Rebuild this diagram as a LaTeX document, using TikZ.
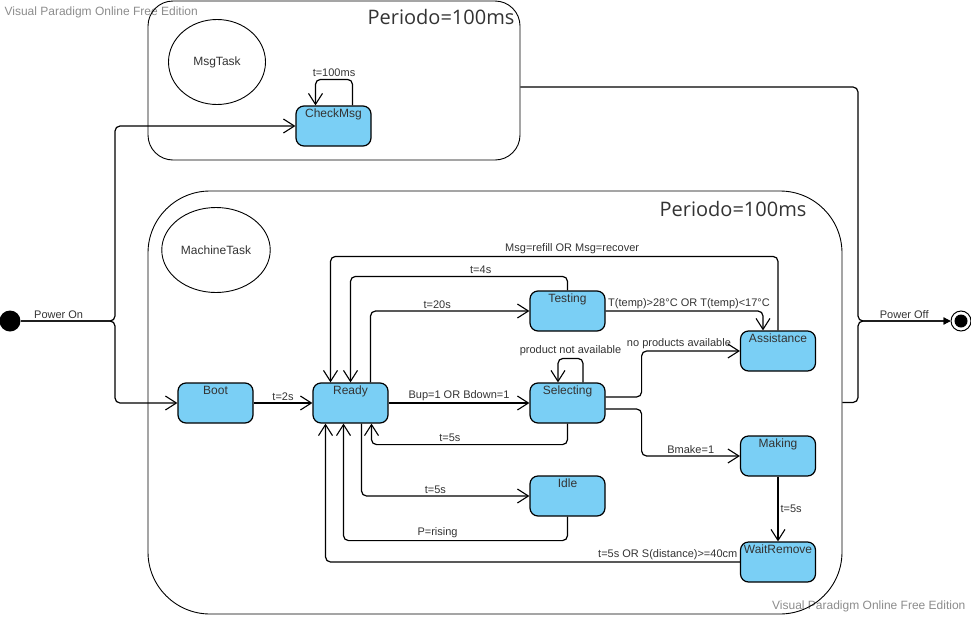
\documentclass[tikz,border=0pt]{standalone}
\usepackage{fontspec}
\setmainfont{Liberation Sans}
\newfontfamily\titlefont{Open Sans}
\usepackage{xcolor}
\usetikzlibrary{arrows.meta,shapes.geometric}
\definecolor{stateblue}{RGB}{122,207,245}
\definecolor{txtgray}{RGB}{51,51,51}
\definecolor{markgray}{RGB}{140,140,140}

\begin{document}
\begin{tikzpicture}[x=1pt,y=-1pt,line width=1.2pt,
  state/.style={rectangle,rounded corners=8pt,draw,fill=stateblue,minimum width=75pt,minimum height=40pt,inner sep=0pt,
    label={[anchor=north,inner sep=3pt,text=txtgray,font=\fontsize{12}{14}\selectfont]north:#1}},
  task/.style={ellipse,draw,line width=0.9pt,minimum width=97pt,minimum height=85pt,text=txtgray,font=\fontsize{12}{14}\selectfont},
  region/.style={rectangle,draw,line width=0.9pt,inner sep=0pt},
  period/.style={anchor=east,inner sep=0pt,text=txtgray,font=\titlefont\fontsize{20}{24}\selectfont},
  lbl/.style={inner sep=2pt,text=txtgray,font=\fontsize{11}{13}\selectfont},
  wmark/.style={inner sep=0pt,text=markgray,font=\fontsize{12}{14}\selectfont},
  link/.style={->,rounded corners=5pt},
  >={Straight Barb[length=11pt,width=14pt,line width=1.1pt]}]
\useasboundingbox (0,0) rectangle (971,616);

\node (Mark1)[wmark,anchor=west] at (4,12) {Visual Paradigm Online Free Edition};
\node (Mark2)[wmark,anchor=east] at (966,606) {Visual Paradigm Online Free Edition};

% the two tasks
\node (MsgBox)[region,rounded corners=25pt,minimum width=372pt,minimum height=159pt] at (334,80.5) {};
\node (MachBox)[region,rounded corners=62pt,minimum width=694pt,minimum height=423pt] at (495,402.5) {};
\node (Per1)[period] at (515,17) {Periodo=100ms};
\node (Per2)[period] at (807,209) {Periodo=100ms};
\node (MsgTask)[task] at (217,62) {MsgTask};
\node (MachTask)[task] at (216,250) {MachineTask};

% states
\node (CheckMsg)[state=CheckMsg] at (333.5,126) {};
\node (Boot)[state=Boot] at (215.5,403) {};
\node (Ready)[state=Ready] at (350.5,403) {};
\node (Test)[state=Testing] at (567.5,311) {};
\node (Sel)[state=Selecting] at (567.5,403) {};
\node (Assist)[state=Assistance] at (778,351) {};
\node (Make)[state=Making] at (778,456) {};
\node (Idle)[state=Idle] at (567.5,496) {};
\node (Wait)[state=WaitRemove] at (778,562) {};

\node (Init)[circle,fill=black,minimum size=21pt,inner sep=0pt] at (10,321) {};
\coordinate (PwrOn) at (115,321);
\node (Final)[circle,draw,line width=1pt,minimum size=20pt,inner sep=0pt] at (961,321) {};
\node (FinalDot)[circle,fill=black,minimum size=13pt,inner sep=0pt] at (Final) {};
\coordinate (PwrOff) at (858,321);

% power on
\draw[link] (Init) -- node[above,lbl,pos=0.4]{Power On} (PwrOn) |- (CheckMsg.west);
\draw[link] (Init) -- (PwrOn) |- (Boot.west);
\draw[link] ([xshift=19pt]CheckMsg.north) -- ++(0,-26) -| node[pos=0.25,above,lbl]{t=100ms} ([xshift=-18pt]CheckMsg.north);

% machine task
\draw[->] (Boot) -- node[above,lbl]{t=2s} (Ready);
\draw[->] (Ready) -- node[above,lbl]{Bup=1 OR Bdown=1} (Sel);
\draw[link] ([xshift=20pt]Ready.north) |- node[pos=0.71,above,lbl]{t=20s} (Test.west);
\draw[link] (Test.north) -- ++(0,-14) -| node[pos=0.2,above,lbl]{t=4s} (Ready.north);
\draw[link] (Assist.north) -- ++(0,-74) -| node[pos=0.23,above,lbl]{Msg=refill OR Msg=recover} ([xshift=-20pt]Ready.north);
\draw[link] (Test.east) -| node[pos=0,anchor=south west,lbl]{T(temp)>28°C OR T(temp)<17°C} ([xshift=-15pt]Assist.north);
\draw[link] ([xshift=15.5pt]Sel.north) -- ++(0,-24) -| node[pos=0.25,above,lbl]{product not available} ([xshift=-9.5pt]Sel.north);
\draw[link] ([yshift=6pt]Sel.east) -- ++(36,0) |- node[pos=0.69,above,lbl]{no products available} (Assist.west);
\draw[link] ([yshift=-6pt]Sel.east) -- ++(36,0) |- node[pos=0.75,above,lbl]{Bmake=1} (Make.west);
\draw[link] (Sel.south) -- ++(0,21) -| node[pos=0.3,above,lbl]{t=5s} ([xshift=21pt]Ready.south);
\draw[link] ([xshift=11pt]Ready.south) |- node[pos=0.72,above,lbl]{t=5s} (Idle.west);
\draw[link] (Idle.south) -- ++(0,24) -| node[pos=0.29,above,lbl]{P=rising} ([xshift=-7pt]Ready.south);
\draw[->] (Make) -- node[right,lbl]{t=5s} (Wait);
\draw[link] (Wait.west) -| node[pos=0,anchor=south east,lbl]{t=5s OR S(distance)>=40cm} ([xshift=-25pt]Ready.south);

% power off
\draw[rounded corners=5pt,-{Triangle[length=7pt,width=7pt]}] ([yshift=-6.5pt]MsgBox.east) -| (PwrOff) -- node[above,lbl]{Power Off} (Final);
\draw[rounded corners=5pt,-{Triangle[length=7pt,width=7pt]}] (MachBox.east) -| (PwrOff) -- (Final);
\end{tikzpicture}
\end{document}
